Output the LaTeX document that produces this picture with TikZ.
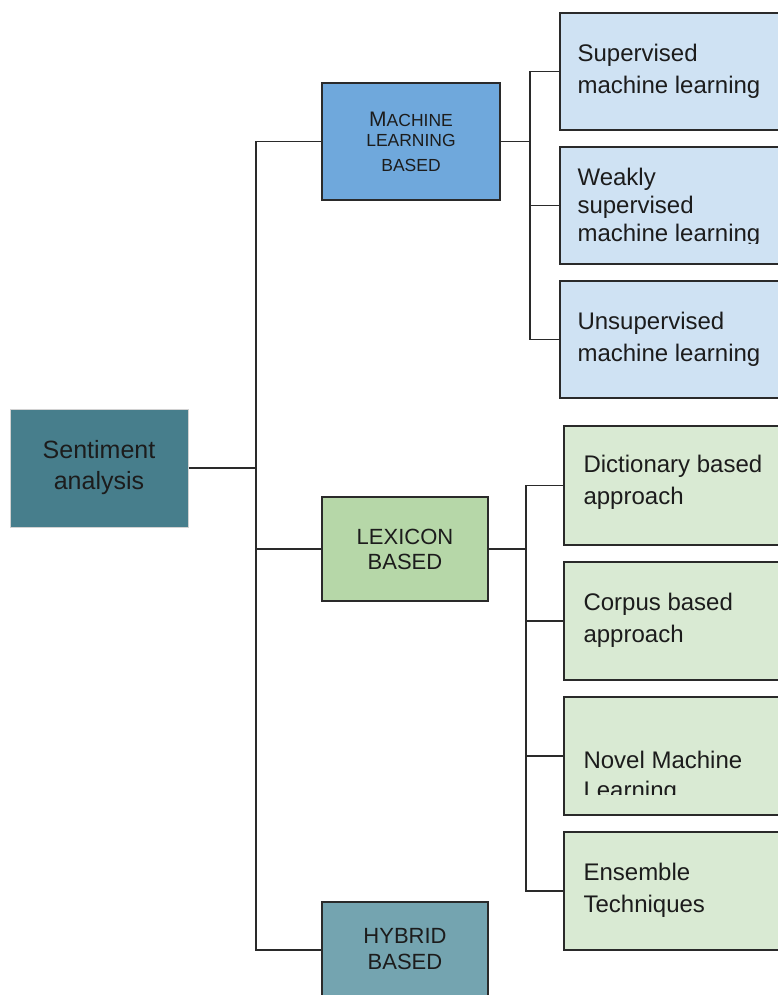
\documentclass[tikz,border=0pt]{standalone}
\usepackage{fontspec}
\setmainfont{Liberation Sans}
\definecolor{senti}{HTML}{477E8C}
\definecolor{mlc}{HTML}{6FA8DC}
\definecolor{lexc}{HTML}{B6D7A8}
\definecolor{hyc}{HTML}{74A4B0}
\definecolor{leafb}{HTML}{CFE2F3}
\definecolor{leafg}{HTML}{D9EAD3}
\definecolor{textc}{HTML}{1C1C1C}
\definecolor{linec}{HTML}{2A2A2A}
\begin{document}
\begin{tikzpicture}[x=1pt,y=-1pt,
  box/.style={draw=linec, line width=1.3pt, rectangle, inner sep=0pt, text=textc, align=center},
  leafbox/.style={box, minimum width=240pt},
  leaftext/.style={inner sep=0pt, align=left, text=textc, font=\fontsize{24pt}{32pt}\selectfont, anchor=west},
  conn/.style={draw=linec, line width=1.6pt}]
\clip (0,0) rectangle (778,995);
\fill[white] (0,0) rectangle (778,995);

% main nodes
\node[box, fill=senti, draw=gray!35, line width=1pt, minimum width=178pt, minimum height=118pt,
      font=\fontsize{25pt}{31pt}\selectfont] (sa) at (99,468) {Sentiment\\analysis};
\node[box, fill=mlc, minimum width=178pt, minimum height=117pt,
      font=\fontsize{17.5pt}{21pt}\selectfont] (ml) at (411,141.5)
      {{\fontsize{21pt}{21pt}\selectfont M}ACHINE\\[-1pt]LEARNING\\[4pt]BASED};
\node[box, fill=lexc, minimum width=166pt, minimum height=104pt,
      font=\fontsize{22pt}{25pt}\selectfont] (lx) at (405,549) {LEXICON\\BASED};
\node[box, fill=hyc, minimum width=166pt, minimum height=96pt,
      font=\fontsize{22pt}{26pt}\selectfont] (hy) at (405,950) {\raisebox{2pt}{HYBRID}\\\raisebox{2pt}{BASED}};

% machine learning leaves
\node[leafbox, fill=leafb, minimum height=117pt] (s1) at (680,71.5) {};
\node[leafbox, fill=leafb, minimum height=117pt] (s2) at (680,205.5) {};
\node[leafbox, fill=leafb, minimum height=117pt] (s3) at (680,339.5) {};

% lexicon leaves
\node[leafbox, fill=leafg, minimum height=119pt] (d1) at (684,485.5) {};
\node[leafbox, fill=leafg, minimum height=118pt] (d2) at (684,621) {};
\node[leafbox, fill=leafg, minimum height=118pt] (d3) at (684,756) {};
\node[leafbox, fill=leafg, minimum height=118pt] (d4) at (684,891) {};

% leaf texts
\node[leaftext] (t1) at ([xshift=18pt]s1.west) {Supervised\\machine learning};
\begin{scope}
  \clip (560,147) rectangle (800,243);
  \node[leaftext, font=\fontsize{24pt}{28pt}\selectfont] (t2) at ([xshift=18pt,yshift=-2pt]s2.west) {Weakly\\supervised\\machine learning};
\end{scope}
\node[leaftext] (t3) at ([xshift=18pt]s3.west) {Unsupervised\\machine learning};
\node[leaftext] (t4) at ([xshift=20pt,yshift=3pt]d1.west) {Dictionary based\\approach};
\node[leaftext] (t5) at ([xshift=20pt,yshift=1pt]d2.west) {Corpus based\\approach};
\begin{scope}
  \clip (564,697) rectangle (800,794);
  \node[leaftext, font=\fontsize{24pt}{30pt}\selectfont] (t6) at ([xshift=20pt,yshift=-21pt]d3.west) {Novel Machine\\Learning};
\end{scope}
\node[leaftext] (t7) at ([xshift=20pt,yshift=1pt]d4.west) {Ensemble\\Techniques};

% connectors
\coordinate (j0) at (256,468);
\coordinate (b1) at (530,141.5);
\coordinate (b2) at (526,549);
\draw[conn] (sa.east) -- (j0);
\draw[conn] (ml.west) -| (j0);
\draw[conn] (hy.west) -| (j0);
\draw[conn] (lx.west) -- (lx.west -| j0);

\draw[conn] (ml.east) -- (b1);
\draw[conn] (s1.west) -| (b1);
\draw[conn] (s3.west) -| (b1);
\draw[conn] (s2.west) -- (s2.west -| b1);

\draw[conn] (lx.east) -- (b2);
\draw[conn] (d1.west) -| (b2);
\draw[conn] (d4.west) -| (b2);
\draw[conn] (d2.west) -- (d2.west -| b2);
\draw[conn] (d3.west) -- (d3.west -| b2);
\end{tikzpicture}
\end{document}
